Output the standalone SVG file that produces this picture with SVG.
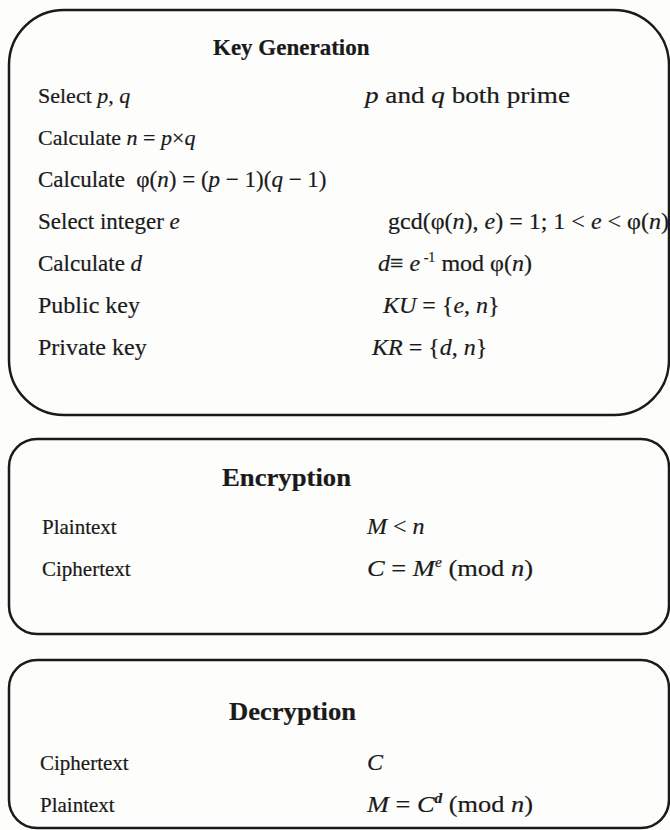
<svg xmlns="http://www.w3.org/2000/svg" width="670" height="830" viewBox="0 0 670 830">
<style>
.box{fill:none;stroke:#1a1a1a;stroke-width:2.5}
text{font-family:"Liberation Serif","Times New Roman",serif;font-size:23px;fill:#1a1a1a;stroke:#1a1a1a;stroke-width:0.2}
.h{font-weight:bold;font-size:23px}
.h2{font-weight:bold;font-size:25px}
.r{font-size:24px}
.e{font-size:21px}
.i{font-style:italic}
.s{font-size:14px}
</style>
<rect width="670" height="830" fill="#fdfdfc"/>
<g id="keygen">
<rect class="box" x="9" y="10" width="660" height="405" rx="55" ry="55"/>
<text class="h" x="213" y="55">Key Generation</text>
<text x="38" y="103" style="font-size:22px">Select <tspan class="i">p</tspan>, <tspan class="i">q</tspan></text>
<text class="r" x="365" y="103" textLength="205" lengthAdjust="spacingAndGlyphs"><tspan class="i">p</tspan> and <tspan class="i">q</tspan> both prime</text>
<text x="38" y="145" style="font-size:22px">Calculate <tspan class="i">n</tspan> = <tspan class="i">p</tspan>×<tspan class="i">q</tspan></text>
<text x="38" y="187" xml:space="preserve">Calculate  φ(<tspan class="i">n</tspan>) = (<tspan class="i">p</tspan> − 1)(<tspan class="i">q</tspan> − 1)</text>
<text x="38" y="229">Select integer <tspan class="i">e</tspan></text>
<text class="r" x="388" y="229">gcd(φ(<tspan class="i">n</tspan>), <tspan class="i">e</tspan>) = 1; 1 &lt; <tspan class="i">e</tspan> &lt; φ(<tspan class="i">n</tspan>)</text>
<text x="38" y="271">Calculate <tspan class="i">d</tspan></text>
<text class="r" x="378" y="271"><tspan class="i">d</tspan>≡ <tspan class="i">e</tspan><tspan class="s" dy="-9"> -1</tspan><tspan dy="9"> mod φ(</tspan><tspan class="i">n</tspan>)</text>
<text class="r" x="38" y="313">Public key</text>
<text class="r r" x="383" y="313"><tspan class="i">KU</tspan> = {<tspan class="i">e</tspan>, <tspan class="i">n</tspan>}</text>
<text class="r" x="38" y="355">Private key</text>
<text class="r" x="372" y="355"><tspan class="i">KR</tspan> = {<tspan class="i">d</tspan>, <tspan class="i">n</tspan>}</text>
</g>
<g id="encryption">
<rect class="box" x="9" y="439" width="660" height="195" rx="28" ry="28"/>
<text class="h2" x="222" y="486" textLength="129" lengthAdjust="spacingAndGlyphs">Encryption</text>
<text class="e" x="42" y="534">Plaintext</text>
<text class="r" x="367" y="534"><tspan class="i">M</tspan> &lt; <tspan class="i">n</tspan></text>
<text class="e" x="42" y="576">Ciphertext</text>
<text class="r" x="367" y="576" textLength="166" lengthAdjust="spacingAndGlyphs"><tspan class="i">C</tspan> = <tspan class="i">M</tspan><tspan class="s i" dy="-9">e</tspan><tspan dy="9"> (mod </tspan><tspan class="i">n</tspan>)</text>
</g>
<g id="decryption">
<rect class="box" x="9" y="660" width="660" height="168" rx="28" ry="28"/>
<text class="h2" x="229" y="720" textLength="127" lengthAdjust="spacingAndGlyphs">Decryption</text>
<text class="e" x="40" y="770">Ciphertext</text>
<text class="r i" x="367" y="770">C</text>
<text class="e" x="40" y="812">Plaintext</text>
<text class="r" x="367" y="812" textLength="166" lengthAdjust="spacingAndGlyphs"><tspan class="i">M</tspan> = <tspan class="i">C</tspan><tspan class="s i" dy="-9" font-weight="bold">d</tspan><tspan dy="9"> (mod </tspan><tspan class="i">n</tspan>)</text>
</g>
<g id="connectors"/>
</svg>
